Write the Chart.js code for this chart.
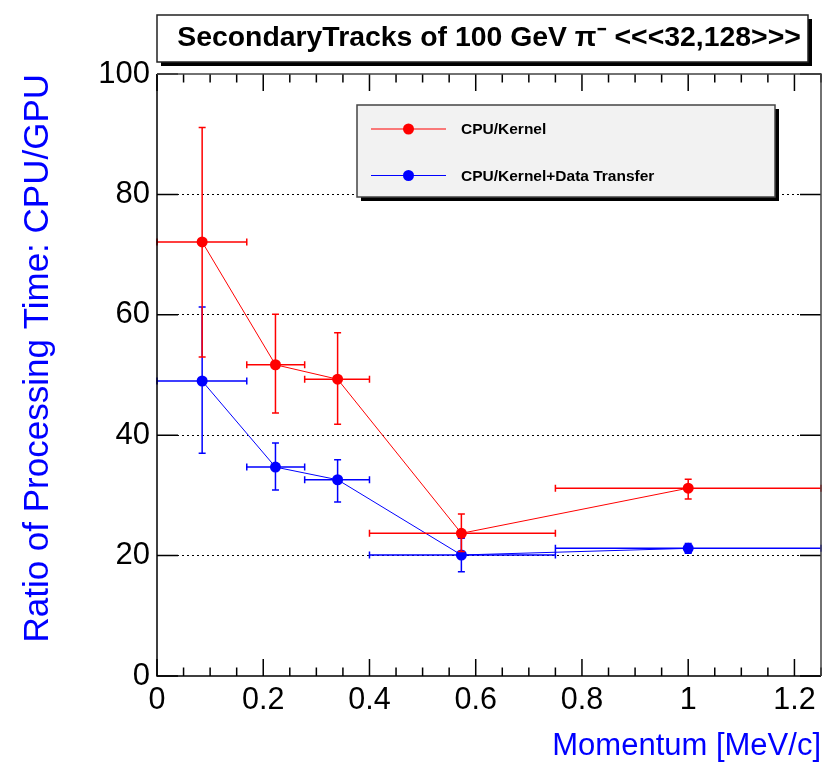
<!DOCTYPE html>
<html>
<head>
<meta charset="utf-8">
<script src="https://cdn.jsdelivr.net/npm/chart.js@4.4.1/dist/chart.umd.min.js"></script>
<style>
  html, body { margin: 0; padding: 0; background: #fff; }
  #wrap { width: 827px; height: 768px; }
</style>
</head>
<body>
<div id="wrap"><canvas id="ratioChart" width="827" height="768"></canvas></div>
<script>
// momentum bins [MeV/c] : centre + bin edges
const momentum = [0.085, 0.223, 0.34, 0.573, 1.0];
const momentumLow = [0, 0.169, 0.278, 0.4, 0.75];
const momentumHigh = [0.169, 0.278, 0.4, 0.75, 1.25];

// CPU/Kernel ratio
const kernelRatio = [72.1, 51.7, 49.3, 23.7, 31.2];
const kernelErrUp = [19.0, 8.4, 7.7, 3.2, 1.5];
const kernelErrDown = [19.1, 8.0, 7.5, 3.0, 1.8];

// CPU/Kernel+Data Transfer ratio
const transferRatio = [49.0, 34.7, 32.6, 20.1, 21.2];
const transferErrUp = [12.3, 4.0, 3.3, 2.8, 0.8];
const transferErrDown = [12.0, 3.8, 3.7, 2.8, 0.8];

const xLabelTicks = [0, 0.2, 0.4, 0.6, 0.8, 1, 1.2];
const yTicks = [0, 20, 40, 60, 80, 100];

const FONT = '"Liberation Sans", Arial, Helvetica, sans-serif';

function makePoints(ys, up, down) {
  return ys.map((y, i) => ({
    x: momentum[i], y: y,
    xMin: momentumLow[i], xMax: momentumHigh[i],
    yMin: y - down[i], yMax: y + up[i]
  }));
}

// title box with shadow (ROOT style)
const titleBoxPlugin = {
  id: 'titleBox',
  beforeDraw(chart) {
    const ctx = chart.ctx;
    const left = chart.chartArea.left, right = 808, top = 15, bottom = 62;
    ctx.save();
    ctx.fillStyle = '#000';
    ctx.fillRect(left + 4, top + 4, right - left, bottom - top);
    ctx.fillStyle = '#fff';
    ctx.fillRect(left, top, right - left, bottom - top);
    ctx.strokeStyle = '#222';
    ctx.lineWidth = 1.5;
    ctx.strokeRect(left, top, right - left, bottom - top);
    ctx.restore();
  }
};

// x/y error bars for each dataset, drawn just before the dataset itself
const errorBarPlugin = {
  id: 'errorBars',
  beforeDatasetDraw(chart, args) {
    const ds = chart.data.datasets[args.index];
    const xs = chart.scales.x, ys = chart.scales.y;
    const ctx = chart.ctx;
    const cap = 3.5;
    ctx.save();
    ctx.strokeStyle = ds.borderColor;
    ctx.lineWidth = 1.5;
    ds.data.forEach(p => {
      const px = xs.getPixelForValue(p.x), py = ys.getPixelForValue(p.y);
      const x0 = xs.getPixelForValue(p.xMin), x1 = xs.getPixelForValue(p.xMax);
      const y0 = ys.getPixelForValue(p.yMin), y1 = ys.getPixelForValue(p.yMax);
      ctx.beginPath();
      ctx.moveTo(x0, py); ctx.lineTo(x1, py);
      ctx.moveTo(x0, py - cap); ctx.lineTo(x0, py + cap);
      ctx.moveTo(x1, py - cap); ctx.lineTo(x1, py + cap);
      ctx.moveTo(px, y0); ctx.lineTo(px, y1);
      ctx.moveTo(px - cap, y0); ctx.lineTo(px + cap, y0);
      ctx.moveTo(px - cap, y1); ctx.lineTo(px + cap, y1);
      ctx.stroke();
    });
    ctx.restore();
  }
};

// frame + inward ticks on all four sides
const framePlugin = {
  id: 'frame',
  afterDatasetsDraw(chart) {
    const ctx = chart.ctx;
    const a = chart.chartArea;
    const xs = chart.scales.x, ys = chart.scales.y;
    ctx.save();
    ctx.lineWidth = 1.5;
    ctx.strokeStyle = '#000';
    xs.ticks.forEach(t => {
      const px = xs.getPixelForValue(t.value);
      const major = xLabelTicks.some(v => Math.abs(v - t.value) < 1e-6);
      const len = major ? 17 : 8.5;
      ctx.beginPath();
      ctx.moveTo(px, a.bottom); ctx.lineTo(px, a.bottom - len);
      ctx.moveTo(px, a.top); ctx.lineTo(px, a.top + len);
      ctx.stroke();
    });
    ys.ticks.forEach(t => {
      const py = ys.getPixelForValue(t.value);
      ctx.beginPath();
      ctx.moveTo(a.left, py); ctx.lineTo(a.left + 21, py);
      ctx.moveTo(a.right, py); ctx.lineTo(a.right - 21, py);
      ctx.stroke();
    });
    ctx.beginPath();
    ctx.moveTo(a.left, a.top); ctx.lineTo(a.left, a.bottom); ctx.lineTo(a.right, a.bottom);
    ctx.stroke();
    ctx.strokeStyle = '#444';
    ctx.beginPath();
    ctx.moveTo(a.left, a.top); ctx.lineTo(a.right, a.top); ctx.lineTo(a.right, a.bottom);
    ctx.stroke();
    ctx.restore();
  }
};

// legend box inside the frame
const legendBoxPlugin = {
  id: 'legendBox',
  afterDraw(chart) {
    const ctx = chart.ctx;
    const bx = 357, by = 105, bw = 418, bh = 92;
    ctx.save();
    ctx.fillStyle = '#000';
    ctx.fillRect(bx + 4, by + 4, bw, bh);
    ctx.fillStyle = '#f2f2f2';
    ctx.fillRect(bx, by, bw, bh);
    ctx.strokeStyle = '#444';
    ctx.lineWidth = 1.5;
    ctx.strokeRect(bx, by, bw, bh);
    const rows = [129, 175.5];
    chart.data.datasets.forEach((ds, i) => {
      const y = rows[i];
      ctx.strokeStyle = ds.borderColor;
      ctx.lineWidth = 1.2;
      ctx.beginPath();
      ctx.moveTo(371, y); ctx.lineTo(446, y);
      ctx.stroke();
      ctx.fillStyle = ds.borderColor;
      ctx.beginPath();
      ctx.arc(408.5, y, 5.5, 0, Math.PI * 2);
      ctx.fill();
      ctx.fillStyle = '#000';
      ctx.font = 'bold 15.5px ' + FONT;
      ctx.textBaseline = 'middle';
      ctx.textAlign = 'left';
      ctx.fillText(ds.label, 461, y + 1);
    });
    ctx.restore();
  }
};

const ctx = document.getElementById('ratioChart').getContext('2d');

new Chart(ctx, {
  type: 'scatter',
  data: {
    datasets: [
      {
        label: 'CPU/Kernel',
        data: makePoints(kernelRatio, kernelErrUp, kernelErrDown),
        showLine: true,
        borderColor: '#ff0000',
        backgroundColor: '#ff0000',
        borderWidth: 1,
        pointRadius: 5.5,
        pointBorderWidth: 0,
        pointBackgroundColor: '#ff0000'
      },
      {
        label: 'CPU/Kernel+Data Transfer',
        data: makePoints(transferRatio, transferErrUp, transferErrDown),
        showLine: true,
        borderColor: '#0000ff',
        backgroundColor: '#0000ff',
        borderWidth: 1,
        pointRadius: 5.5,
        pointBorderWidth: 0,
        pointBackgroundColor: '#0000ff'
      }
    ]
  },
  options: {
    responsive: false,
    animation: false,
    layout: { padding: { left: 0, right: 5, top: 0, bottom: 0 } },
    plugins: {
      legend: { display: false },
      tooltip: { enabled: false },
      title: {
        display: true,
        fullSize: false,
        text: 'SecondaryTracks of 100 GeV \u03c0\u207b <<<32,128>>>',
        color: '#000',
        font: { family: FONT, size: 28.4, weight: 'bold', lineHeight: 1.2 },
        padding: { top: 21.5, bottom: 18.4 }
      }
    },
    scales: {
      x: {
        type: 'linear',
        min: 0,
        max: 1.25,
        afterFit(scale) { scale.height = 92; },
        grid: { display: false, drawTicks: false },
        border: { display: false },
        ticks: {
          stepSize: 0.05,
          autoSkip: false,
          maxRotation: 0,
          padding: 6,
          color: '#000',
          font: { family: FONT, size: 30.5 },
          callback(value) {
            const v = Number(value.toFixed(2));
            return xLabelTicks.some(t => Math.abs(t - v) < 1e-6) ? String(v) : '';
          }
        },
        title: {
          display: true,
          text: 'Momentum [MeV/c]',
          align: 'end',
          color: '#0000ff',
          font: { family: FONT, size: 31 },
          padding: { top: 0, bottom: 3 }
        }
      },
      y: {
        min: 0,
        max: 100,
        afterFit(scale) { scale.width = 157; },
        grid: {
          drawTicks: false,
          lineWidth: 1,
          color: c => (c.tick.value === 0 || c.tick.value === 100) ? 'rgba(0,0,0,0)' : '#000'
        },
        border: { display: false, dash: [2, 3] },
        ticks: {
          stepSize: 20,
          padding: 7,
          color: '#000',
          font: { family: FONT, size: 31 },
          callback(value) { return yTicks.includes(value) ? String(value) : ''; }
        },
        title: {
          display: true,
          text: 'Ratio of Processing Time: CPU/GPU',
          align: 'end',
          color: '#0000ff',
          font: { family: FONT, size: 35 },
          padding: { top: 17, bottom: 0 }
        }
      }
    }
  },
  plugins: [titleBoxPlugin, errorBarPlugin, framePlugin, legendBoxPlugin]
});
</script>
</body>
</html>
